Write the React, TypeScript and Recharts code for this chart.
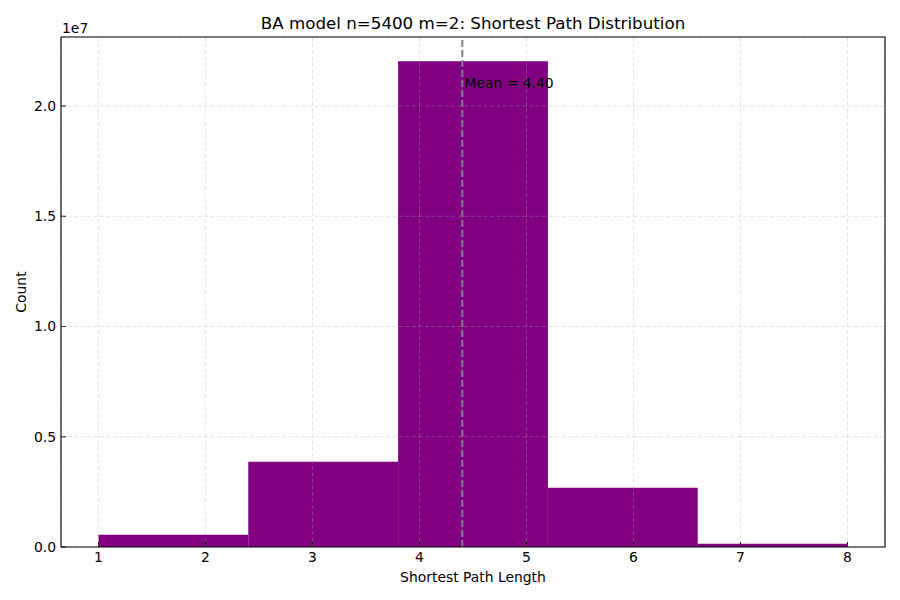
import React from 'react';
import {
  ComposedChart,
  XAxis,
  YAxis,
  CartesianGrid,
  ReferenceArea,
  ReferenceLine,
  ReferenceDot,
  Label,
} from 'recharts';

const binEdges = [1, 2.4, 3.8, 5.2, 6.6, 8];
const binCounts = [558000, 3870000, 22030000, 2690000, 150000];
const xTicks = [1, 2, 3, 4, 5, 6, 7, 8];
const yTicks = [0, 5000000, 10000000, 15000000, 20000000];
const meanValue = 4.4;
const meanLabelY = 20800000;
const titleText = 'BA model n=5400 m=2: Shortest Path Distribution';
const xLabelText = 'Shortest Path Length';
const yLabelText = 'Count';
const yScaleText = '1e7';

const bins = binCounts.map((count, i) => ({
  x0: binEdges[i],
  x1: binEdges[i + 1],
  mid: (binEdges[i] + binEdges[i + 1]) / 2,
  count,
}));

const X_DOMAIN: [number, number] = [0.65, 8.35];
const Y_DOMAIN: [number, number] = [0, 23130000];

const FONT = 'DejaVu Sans, sans-serif';
const PURPLE = '#800080';

export default function App() {
  return (
    <div style={{ position: 'absolute', left: 0, top: 0, width: 900, height: 600, background: '#fff' }}>
      <ComposedChart
        width={900}
        height={600}
        data={bins}
        margin={{ top: 37, right: 15, bottom: 0, left: 0 }}
        style={{ fontFamily: FONT }}
      >
        <XAxis
          type="number"
          dataKey="mid"
          domain={X_DOMAIN}
          allowDataOverflow
          ticks={xTicks}
          interval={0}
          height={53}
          axisLine={false}
          tickSize={-5}
          tickMargin={10}
          tickLine={{ stroke: '#000', strokeWidth: 1 }}
          tick={{ fill: '#000', fontSize: 13.9, fontFamily: FONT }}
        >
          <Label
            content={(p: any) => {
              const vb = p.viewBox || {};
              return (
                <text
                  x={vb.x + vb.width / 2}
                  y={vb.y + 35}
                  textAnchor="middle"
                  fontSize={13.9}
                  fontFamily={FONT}
                  fill="#000"
                >
                  {xLabelText}
                </text>
              );
            }}
          />
          <Label
            content={(p: any) => {
              const vb = p.viewBox || {};
              return (
                <text
                  x={vb.x + vb.width / 2}
                  y={vb.y - 518}
                  textAnchor="middle"
                  fontSize={16.7}
                  fontFamily={FONT}
                  fill="#000"
                >
                  {titleText}
                </text>
              );
            }}
          />
        </XAxis>
        <YAxis
          type="number"
          domain={Y_DOMAIN}
          allowDataOverflow
          ticks={yTicks}
          interval={0}
          width={61}
          axisLine={false}
          tickSize={-5}
          tickMargin={10}
          tickLine={{ stroke: '#000', strokeWidth: 1 }}
          tick={{ fill: '#000', fontSize: 13.9, fontFamily: FONT }}
          tickFormatter={(v: number) => (v / 1e7).toFixed(1)}
        >
          <Label
            content={(p: any) => {
              const vb = p.viewBox || {};
              const cx = vb.x + 21;
              const cy = vb.y + vb.height / 2;
              return (
                <text
                  x={cx}
                  y={cy}
                  transform={`rotate(-90, ${cx}, ${cy})`}
                  textAnchor="middle"
                  dominantBaseline="central"
                  fontSize={13.9}
                  fontFamily={FONT}
                  fill="#000"
                >
                  {yLabelText}
                </text>
              );
            }}
          />
          <Label
            content={(p: any) => {
              const vb = p.viewBox || {};
              return (
                <text
                  x={vb.x + vb.width + 1}
                  y={vb.y - 4}
                  textAnchor="start"
                  fontSize={13.9}
                  fontFamily={FONT}
                  fill="#000"
                >
                  {yScaleText}
                </text>
              );
            }}
          />
        </YAxis>

        {bins.map((b, i) => (
          <ReferenceArea
            key={`bin-${i}`}
            x1={b.x0}
            x2={b.x1}
            y1={0}
            y2={b.count}
            fill={PURPLE}
            fillOpacity={1}
            stroke="none"
            strokeWidth={0}
          />
        ))}

        <CartesianGrid
          stroke="#b0b0b0"
          strokeOpacity={0.35}
          strokeDasharray="4 2.5"
          strokeWidth={1}
          {...({ zIndex: 500 } as any)}
        />

        <ReferenceLine
          x={meanValue}
          stroke="#808080"
          strokeWidth={2}
          strokeDasharray="7 3"
          {...({ zIndex: 600 } as any)}
        />

        <ReferenceDot
          x={meanValue + 0.02}
          y={meanLabelY}
          r={0}
          {...({ zIndex: 700 } as any)}
          shape={(p: any) => (
            <text
              x={p.cx}
              y={p.cy}
              textAnchor="start"
              fontSize={13.9}
              fontFamily={FONT}
              fill="#000"
            >
              Mean = 4.40
            </text>
          )}
        />

        <ReferenceArea
          x1={X_DOMAIN[0]}
          x2={X_DOMAIN[1]}
          y1={Y_DOMAIN[0]}
          y2={Y_DOMAIN[1]}
          fill="none"
          fillOpacity={0}
          stroke="#000"
          strokeWidth={1.1}
          {...({ zIndex: 800 } as any)}
        />
      </ComposedChart>
    </div>
  );
}
